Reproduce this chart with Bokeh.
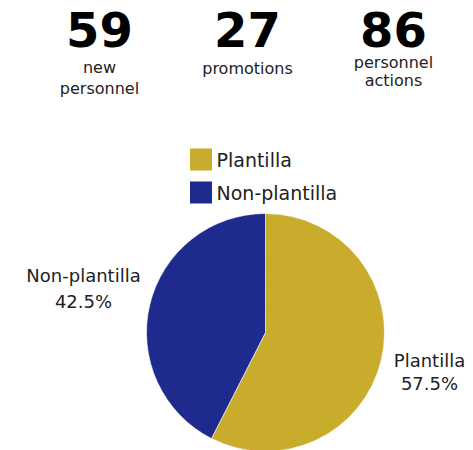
import math
from bokeh.plotting import figure
from bokeh.models import Range1d, ColumnDataSource
from bokeh.core.properties import value
from bokeh.embed import file_html
from bokeh.resources import INLINE

# ---- data ----
stat_values = ["59", "27", "86"]
stat_labels = [["new", "personnel"], ["promotions"], ["personnel", "actions"]]
categories = ["Plantilla", "Non-plantilla"]
shares = [57.5, 42.5]
colors = ["#CAAC2C", "#1F2A8E"]

W, H = 473, 450
p = figure(width=W, height=H, output_backend="svg", toolbar_location=None,
           x_range=Range1d(0, W), y_range=Range1d(0, H), min_border=0)
p.axis.visible = False
p.grid.visible = False
p.outline_line_color = None
p.background_fill_color = "white"
p.border_fill_color = "white"

def fx(x):
    return x

def fy(y):
    return H - y

FONT = "DejaVu Sans"

# ---- KPI numbers ----
stat_x = [99, 247, 393]
p.text(x=[fx(v) for v in stat_x], y=[fy(29)] * 3, text=stat_values,
       text_font=value(FONT), text_font_style="bold", text_font_size="48px",
       text_align="center", text_baseline="middle", text_color="#000000")
label_y = [[67, 88], [68], [62, 80]]
lx, ly, lt = [], [], []
for sx, lines, ys in zip(stat_x, stat_labels, label_y):
    for line, yy in zip(lines, ys):
        lx.append(fx(sx)); ly.append(fy(yy)); lt.append(line)
p.text(x=lx, y=ly, text=lt, text_font=value(FONT), text_font_size="16px",
       text_align="center", text_baseline="middle", text_color="#222222")

# ---- legend ----
leg_y = [159, 192]
p.rect(x=[fx(200.5)] * 2, y=[fy(v) for v in leg_y], width=22, height=22,
       fill_color=colors, line_color=None)
p.text(x=[fx(216)] * 2, y=[fy(v) for v in leg_y], text=categories,
       text_font=value(FONT), text_font_size="19px",
       text_align="left", text_baseline="middle", text_color="#222222")

# ---- pie ----
cx, cy, r = fx(265), fy(332), 119
total = sum(shares)
starts, ends, mids = [], [], []
acc = 0.0
for s in shares:
    a0 = math.pi / 2 - 2 * math.pi * acc / total
    acc += s
    a1 = math.pi / 2 - 2 * math.pi * acc / total
    starts.append(a0); ends.append(a1); mids.append((a0 + a1) / 2)
src = ColumnDataSource(dict(start=starts, end=ends, color=colors))
p.wedge(x=cx, y=cy, radius=r, start_angle="start", end_angle="end",
        direction="clock", fill_color="color", line_color="white", line_width=0.6,
        source=src)

# ---- outside labels (centred two-line blocks touching the pie) ----
pct = ["%.1f%%" % s for s in shares]
gap = 8
fs = 18
for cat, pc, m in zip(categories, pct, mids):
    ax = cx + (r + gap) * math.cos(m)
    ay = cy + (r + gap) * math.sin(m)
    half_w = 0.5 * max(len(cat), len(pc)) * 0.5 * fs
    bx = ax + half_w if math.cos(m) >= 0 else ax - half_w
    if math.sin(m) < 0:   # below centre: block hangs downward
        y1, y2 = ay + 2, ay - 21
    else:                 # above centre: block sits on top
        y1, y2 = ay + 27, ay + 1
    p.text(x=[bx, bx], y=[y1, y2], text=[cat, pc], text_font=value(FONT),
           text_font_size="%dpx" % fs, text_align="center", text_baseline="middle",
           text_color="#222222")

open("out.html", "w").write(file_html(p, INLINE))
